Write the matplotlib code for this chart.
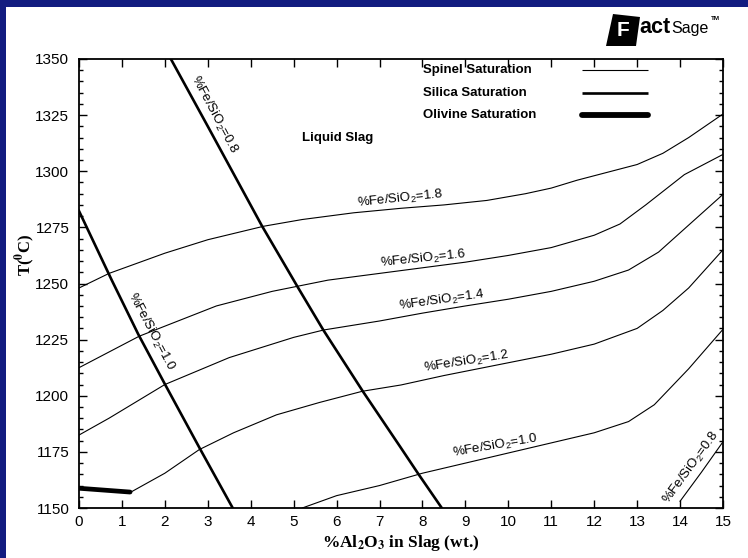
import matplotlib
matplotlib.use('Agg')
import matplotlib.pyplot as plt
from matplotlib.patches import Rectangle, Polygon
from matplotlib.ticker import MultipleLocator

plt.rcParams['font.family'] = ['Liberation Sans', 'DejaVu Sans']
plt.rcParams['mathtext.fontset'] = 'custom'
plt.rcParams['mathtext.rm'] = 'Liberation Sans'
plt.rcParams['mathtext.it'] = 'Liberation Sans:italic'
plt.rcParams['mathtext.bf'] = 'Liberation Sans:bold'

# ---------------- data ----------------
# Spinel saturation isotherms (thin lines), labelled by %Fe/SiO2
sp18_x = [0, 0.7, 2.0, 3.0, 4.3, 5.2, 6.4, 7.5, 8.5, 9.5, 10.4, 11.0, 11.6, 12.3, 13.0, 13.6, 14.2, 15.0]
sp18_T = [1248, 1254.5, 1263.5, 1269.5, 1275.5, 1278.5, 1281.5, 1283.5, 1285, 1287, 1290, 1292.5, 1296, 1299.5, 1303, 1308, 1315, 1325.5]

sp16_x = [0, 0.7, 1.4, 2.0, 3.2, 4.5, 5.8, 7.0, 8.0, 9.0, 10.0, 11.0, 12.0, 12.6, 13.2, 14.1, 15.0]
sp16_T = [1212.5, 1219.5, 1226.5, 1231, 1240, 1246.5, 1251.5, 1254.5, 1257, 1259.5, 1262.5, 1266, 1271.5, 1276.5, 1285, 1298.5, 1307.5]

sp14_x = [0, 0.7, 2.0, 3.5, 5.0, 5.7, 7.0, 8.0, 9.0, 10.0, 11.0, 12.0, 12.8, 13.5, 14.2, 15.0]
sp14_T = [1182.5, 1190, 1205, 1217, 1226, 1229.3, 1233.3, 1236.8, 1240, 1243, 1246.5, 1251, 1256, 1264, 1276, 1289.7]

sp12_x = [1.2, 2.0, 2.8, 3.6, 4.6, 5.6, 6.6, 7.5, 8.5, 10.0, 11.0, 12.0, 13.0, 13.6, 14.2, 15.0]
sp12_T = [1157, 1165.5, 1176, 1183.5, 1191.5, 1197, 1202, 1204.8, 1209, 1214.7, 1218.5, 1223, 1230, 1238, 1248, 1265]

sp10_x = [5.2, 6.0, 7.0, 8.0, 9.0, 10.0, 11.0, 12.0, 12.8, 13.4, 14.2, 15.0]
sp10_T = [1150, 1155.5, 1160, 1165.5, 1170, 1174.5, 1179, 1183.5, 1188.5, 1196, 1212, 1229.6]

sp08_x = [14.0, 14.5, 15.0]
sp08_T = [1153, 1166, 1179.5]

# Silica saturation (medium lines)
si08_x = [2.14, 3.0, 4.26, 5.11, 5.69, 6.61, 7.48, 7.91, 8.45]
si08_T = [1350, 1320, 1275.7, 1247.9, 1229.3, 1202, 1177.3, 1165, 1150]

si10_x = [0, 0.76, 1.38, 2.0, 2.82, 3.58]
si10_T = [1282.3, 1251.6, 1227.4, 1205.2, 1176.3, 1150]

# Olivine saturation (thick line)
ol_x = [0, 1.19]
ol_T = [1158.8, 1157.1]

x_ticks = list(range(0, 16))
y_ticks = [1150, 1175, 1200, 1225, 1250, 1275, 1300, 1325, 1350]

legend_labels = ['Spinel Saturation', 'Silica Saturation', 'Olivine Saturation']
ratio_labels = ['1.8', '1.6', '1.4', '1.2', '1.0', '0.8']

# ---------------- figure ----------------
W, H = 748, 558
fig = plt.figure(figsize=(W / 100, H / 100), dpi=100)
fig.patch.set_facecolor('white')

navy = '#121c80'
fig.add_artist(Rectangle((0, 1 - 7 / H), 1, 7 / H, transform=fig.transFigure,
                         facecolor=navy, edgecolor='none'))
fig.add_artist(Rectangle((0, 0), 6 / W, 1, transform=fig.transFigure,
                         facecolor=navy, edgecolor='none'))

ax = fig.add_axes([79 / W, 1 - 508 / H, 644 / W, 449 / H])
ax.set_xlim(0, 15)
ax.set_ylim(1150, 1350)

thin, mid, thick = 0.8, 1.9, 3.4
for xs, ts in [(sp18_x, sp18_T), (sp16_x, sp16_T), (sp14_x, sp14_T),
               (sp12_x, sp12_T), (sp10_x, sp10_T), (sp08_x, sp08_T)]:
    ax.plot(xs, ts, color='black', lw=thin)
for xs, ts in [(si08_x, si08_T), (si10_x, si10_T)]:
    ax.plot(xs, ts, color='black', lw=mid)
ax.plot(ol_x, ol_T, color='black', lw=thick, solid_capstyle='round')

# curve labels
lab_fs = 9.5
def ratio_text(v):
    return '%Fe/SiO$_2$=' + v

label_pos = [(7.48, 1287.8, 6), (8.02, 1261.0, 6), (8.44, 1242.4, 8),
             (9.02, 1215.2, 9), (9.70, 1177.8, 10)]
for (lx, ly, rot), v in zip(label_pos, ratio_labels[:5]):
    ax.text(lx, ly, ratio_text(v), fontsize=lab_fs, rotation=rot,
            rotation_mode='anchor', ha='center', va='center')
ax.text(14.27, 1167.8, ratio_text(ratio_labels[5]), fontsize=lab_fs, rotation=54,
        rotation_mode='anchor', ha='center', va='center')
ax.text(3.15, 1325.1, ratio_text('0.8'), fontsize=lab_fs, rotation=-62,
        rotation_mode='anchor', ha='center', va='center')
ax.text(1.68, 1228.4, ratio_text('1.0'), fontsize=lab_fs, rotation=-62,
        rotation_mode='anchor', ha='center', va='center')

ax.text(0.402, 0.824, 'Liquid Slag', transform=ax.transAxes, fontsize=9.5,
        fontweight='bold', ha='center', va='center')

# legend (text left, line sample right)
leg_y = [0.976, 0.925, 0.876]
for yy, txt, lw in zip(leg_y, legend_labels, [thin, mid, thick + 0.8]):
    ax.text(0.534, yy, txt, transform=ax.transAxes, fontsize=9.5,
            fontweight='bold', ha='left', va='center')
    ax.plot([0.781, 0.884], [yy, yy], transform=ax.transAxes, color='black',
            lw=lw, solid_capstyle='round' if lw > 2 else 'butt')

# axes styling
ax.set_xticks(x_ticks)
ax.set_yticks(y_ticks)
ax.yaxis.set_minor_locator(MultipleLocator(5))
ax.tick_params(which='both', direction='in', top=True, right=True, width=1.0,
               labelsize=11)
ax.tick_params(which='major', length=5.5)
ax.tick_params(which='minor', length=3)
ax.tick_params(axis='x', pad=5)
ax.tick_params(axis='y', pad=7)
for s in ax.spines.values():
    s.set_linewidth(1.3)

ax.set_xlabel(r'%Al$_\mathbf{2}$O$_\mathbf{3}$ in Slag (wt.)',
              fontfamily='Liberation Serif', fontweight='bold', fontsize=12.5,
              math_fontfamily='stix')
ax.xaxis.set_label_coords(0.5, -0.078)
ax.xaxis.label.set_va('center')
ax.set_ylabel(r'T($^\mathbf{0}$C)', fontfamily='Liberation Serif',
              fontweight='bold', fontsize=12, math_fontfamily='stix')
ax.yaxis.set_label_coords(-0.084, 0.563)
ax.yaxis.label.set_va('center')

# FactSage logo
def fx(px):
    return px / W
def fy(py):
    return 1 - py / H
fig.add_artist(Polygon([(fx(606), fy(46)), (fx(613), fy(14)), (fx(640), fy(17)),
                        (fx(636), fy(46))], closed=True, transform=fig.transFigure,
                       facecolor='black', edgecolor='none'))
fig.text(fx(623), fy(31), 'F', color='white', fontsize=15, fontweight='bold',
         ha='center', va='center')
fig.text(fx(639), fy(33), 'act', color='black', fontsize=15.5, fontweight='bold',
         ha='left', va='baseline')
fig.text(fx(671), fy(33), 'Sage', color='black', fontsize=11.5,
         fontfamily=['Liberation Sans Narrow', 'Liberation Sans'],
         ha='left', va='baseline')
fig.text(fx(711), fy(19), 'TM', color='black', fontsize=4.5, fontweight='bold',
         ha='left', va='center')

fig.savefig('out.png', dpi=100)
